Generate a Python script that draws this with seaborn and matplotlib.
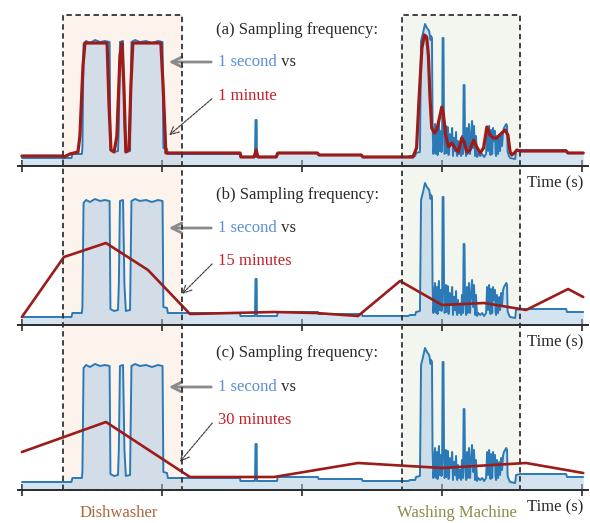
import numpy as np
import pandas as pd
import matplotlib
matplotlib.use("Agg")
import matplotlib.pyplot as plt
import seaborn as sns
from matplotlib.patches import Rectangle, FancyArrowPatch
from matplotlib.transforms import blended_transform_factory

# ---- data (time in minutes, power in W) ----
# 1 second sampled load
t_1s = [0, 17.7, 18.0, 21.4, 21.6, 22.0, 22.9, 24.3, 26.1, 27.9, 29.6, 31.3, 31.6,
        32.9, 34.3, 34.6, 35.0, 36.1, 36.6, 37.1, 38.6, 39.1, 40.4, 42.1, 44.3,
        46.4, 48.6, 50.2, 50.5, 51.8, 52.1, 77.9, 78.0, 83.2, 83.4, 83.8, 83.9,
        91.1, 91.3, 105.7, 105.9, 121.4, 121.6, 137.9, 138.6, 140.4, 140.7, 142.1,
        142.5, 143.2, 143.9, 144.6, 145.4, 145.9, 146.1, 146.4, 146.6,
        146.9, 147.1, 147.3, 147.5, 147.7, 147.9, 148.1, 148.2, 148.4, 148.6, 148.8,
        148.9, 149.1, 149.3, 149.6, 149.8, 150.0, 150.2, 150.5,
        150.7, 150.9, 151.1, 151.2, 151.4, 151.6, 151.8, 152.0, 152.1, 152.3, 152.5,
        152.7, 152.9, 153.2, 153.6, 153.9, 154.1, 154.3,
        154.6, 155.0, 155.2, 155.4, 155.7, 156.1, 156.4, 156.8, 157.1, 157.5, 157.7, 158.0,
        158.2, 158.6, 158.9, 159.1, 159.3, 159.6, 159.8, 160.0, 160.4, 160.7, 161.1, 161.4, 161.8,
        162.1, 162.5, 162.9, 163.6, 164.3, 165.0, 165.7, 166.1, 166.4, 166.8, 167.1,
        167.3, 167.5, 167.9, 168.2, 168.6, 168.9, 169.1, 169.3, 169.6, 170.0, 170.4, 170.7, 171.1,
        171.4, 171.8, 172.1, 172.5, 172.9, 173.2, 173.4, 173.9, 174.3, 176.1, 176.4,
        177.9, 194.3, 194.6, 200.4]
p_1s = [128, 128, 192, 192, 288, 1952, 2000, 1968, 2016, 1984, 2000, 1984, 256,
        224, 240, 640, 1984, 2000, 640, 224, 240, 1984, 2016, 1984, 2000,
        1968, 2000, 1984, 288, 272, 192, 192, 144, 144, 736, 736, 144,
        144, 208, 208, 176, 176, 144, 144, 160, 160, 208, 224,
        2000, 2128, 2272, 2208, 2160, 2016, 2080, 2048, 640,
        192, 320, 560, 672, 224, 192, 512, 608, 176, 240, 656,
        704, 240, 480, 560, 224, 320, 2048, 2048,
        560, 192, 224, 576, 640, 208, 288, 624, 560, 176, 192,
        512, 480, 352, 608, 160, 384, 448,
        240, 544, 208, 160, 400, 192, 320, 160, 480, 192, 1296, 1296,
        400, 160, 608, 192, 240, 672, 208, 192, 560, 720, 288, 640, 160,
        480, 144, 192, 160, 192, 144, 192, 608, 240, 640, 320,
        176, 576, 192, 608, 400, 560, 208, 160, 480, 192, 448, 240, 512,
        320, 560, 608, 640, 672, 640, 224, 160, 128, 112, 240,
        256, 256, 208, 208]

# 1 minute resampled
t_1min = [0, 14.3, 15.0, 17.1, 20.0, 20.7, 21.8, 22.5, 30.4, 31.1, 31.8, 32.9, 33.9,
          35.0, 35.7, 36.4, 37.1, 38.2, 38.9, 39.6, 49.6, 50.4, 51.4, 77.9, 78.2,
          82.9, 83.6, 84.3, 90.7, 91.4, 105.4, 106.1, 121.1, 121.8, 139.6, 140.9,
          141.8, 142.8, 143.7, 144.5, 145.1, 145.7, 146.3, 147.3, 148.1, 149.3,
          149.9, 150.5, 151.3, 152.3, 153.5, 154.6, 155.8, 157.0, 157.9, 158.8,
          160.0, 161.2, 162.4, 163.6, 164.8, 166.0, 167.1, 168.3, 169.5, 171.3,
          172.5, 173.5, 174.3, 174.9, 175.8, 176.7, 177.9, 194.3, 195.0, 200.4]
p_1min = [160, 160, 144, 192, 224, 480, 1600, 1968, 1968, 960, 256, 224, 480,
          1760, 1968, 1280, 224, 256, 1280, 1968, 1968, 1280, 208, 208, 144,
          144, 256, 144, 144, 208, 208, 176, 176, 144, 144, 288,
          1088, 1888, 2096, 2064, 1776, 1088, 608, 528, 576, 816,
          944, 816, 496, 304, 368, 288, 224, 448, 384, 224,
          256, 416, 304, 208, 288, 624, 496, 448, 448, 528,
          576, 496, 224, 176, 208, 256, 240, 240, 208, 208]

# 15 minutes resampled
t_15min = [0, 15, 30, 45, 60, 75, 90, 105, 120, 135, 150, 165, 180, 195, 200.4]
p_15min = [128, 1088, 1312, 880, 176, 192, 208, 192, 144, 704, 320, 352, 240, 576, 448]

# 30 minutes resampled
t_30min = [0, 30, 60, 90, 120, 150, 180, 200.4]
p_30min = [608, 1088, 208, 208, 432, 352, 432, 272]

panel_tags = ["(a)", "(b)", "(c)"]
coarse_labels = ["1 minute", "15 minutes", "30 minutes"]
coarse_t = [t_1min, t_15min, t_30min]
coarse_p = [p_1min, p_15min, p_30min]

appliances = ["Dishwasher", "Washing Machine"]
appliance_start = [14.6, 135.7]
appliance_end = [57.1, 177.9]

# ---- style ----
sns.set_theme(style="white")
plt.rcParams["font.family"] = ["Liberation Serif", "DejaVu Serif"]

BLUE = "#2b79b6"
FILL = "#a8c8e3"
RED = "#9c1b1b"
TXT = "#2a2a2a"
FS = 12
W, H = 590, 523


def fx(px):
    return px / W


def fy(py):
    return 1 - py / H


fig = plt.figure(figsize=(5.9, 5.23), dpi=100)
fig.patch.set_facecolor("white")

axis_rows = [166, 325, 490]
header_rows = [30, 195, 353]
blue_rows = [62, 228, 387]
red_rows = [96, 261, 420]
arrow2_end = [(167, 137), (180, 296), (178, 464)]

df_1s = pd.DataFrame({"t": t_1s, "p": p_1s})

axes = []
for i, yb in enumerate(axis_rows):
    ax = fig.add_axes([fx(18), (H - yb) / H, 570 / W, 150 / H])
    ax.set_facecolor("none")
    axes.append(ax)

    ax.fill_between(t_1s, 0, p_1s, color=FILL, alpha=0.5, lw=0, zorder=1)
    sns.lineplot(data=df_1s, x="t", y="p", ax=ax, color=BLUE, lw=1.4,
                 sort=False, estimator=None, zorder=2)
    df_c = pd.DataFrame({"t": coarse_t[i], "p": coarse_p[i]})
    sns.lineplot(data=df_c, x="t", y="p", ax=ax, color=RED,
                 lw=2.3 if i == 0 else 1.9, sort=False, estimator=None, zorder=3)

    ax.set_xlim(-1.4, 202.1)
    ax.set_ylim(0, 2400)
    ax.set_xticks([0, 50, 100, 150, 200])
    ax.set_xticklabels([])
    ax.set_yticks([])
    ax.set_xlabel("")
    ax.set_ylabel("")
    for s in ["top", "left", "right"]:
        ax.spines[s].set_visible(False)
    ax.spines["bottom"].set_color(TXT)
    ax.spines["bottom"].set_linewidth(1.4)
    ax.tick_params(axis="x", direction="inout", length=9, width=1.2,
                   color=TXT, bottom=True)

    # texts
    fig.text(fx(216), fy(header_rows[i]), f"{panel_tags[i]} Sampling frequency:",
             fontsize=FS, color=TXT, va="center", ha="left")
    t1 = fig.text(fx(218), fy(blue_rows[i]), "1 second", fontsize=FS,
                  color="#5b8fd4", va="center", ha="left")
    ax.annotate(" vs", xy=(1, 0), xycoords=t1, fontsize=FS, color=TXT,
                va="bottom", ha="left")
    fig.text(fx(218), fy(red_rows[i]), coarse_labels[i], fontsize=FS,
             color="#c4202a", va="center", ha="left")
    fig.text(fx(583), fy(yb + 17), "Time (s)", fontsize=FS, color=TXT,
             va="center", ha="right")

    # arrows
    a1 = FancyArrowPatch((fx(214), fy(blue_rows[i])), (fx(166), fy(blue_rows[i])),
                         transform=fig.transFigure, arrowstyle="->",
                         mutation_scale=18, color="#8a8a8a", lw=2)
    fig.add_artist(a1)
    ex, ey = arrow2_end[i]
    a2 = FancyArrowPatch((fx(214), fy(red_rows[i] + 1)), (fx(ex), fy(ey)),
                         transform=fig.transFigure, arrowstyle="->",
                         mutation_scale=15, color="#444444", lw=0.9,
                         linestyle=(0, (2, 1)))
    fig.add_artist(a2)

# appliance boxes spanning all panels
trans = blended_transform_factory(axes[0].transData, fig.transFigure)
box_fill = ["#fdf3ed", "#f3f6ee"]
box_text = ["#b0663c", "#8f8a45"]
for name, s, e, fc, tc in zip(appliances, appliance_start, appliance_end,
                              box_fill, box_text):
    y0, y1 = fy(490), fy(15)
    fig.add_artist(Rectangle((s, y0), e - s, y1 - y0, transform=trans,
                             facecolor=fc, edgecolor="none", zorder=-1))
    fig.add_artist(Rectangle((s, y0), e - s, y1 - y0, transform=trans,
                             fill=False, edgecolor="#333333", lw=1.3,
                             linestyle=(0, (3, 2)), zorder=5))
    fig.text(fx(18) + (s + e) / 2 / 203.5 * (570 / W), fy(513), name,
             fontsize=FS, color=tc, ha="center", va="center")

fig.savefig("out.png", dpi=100)
